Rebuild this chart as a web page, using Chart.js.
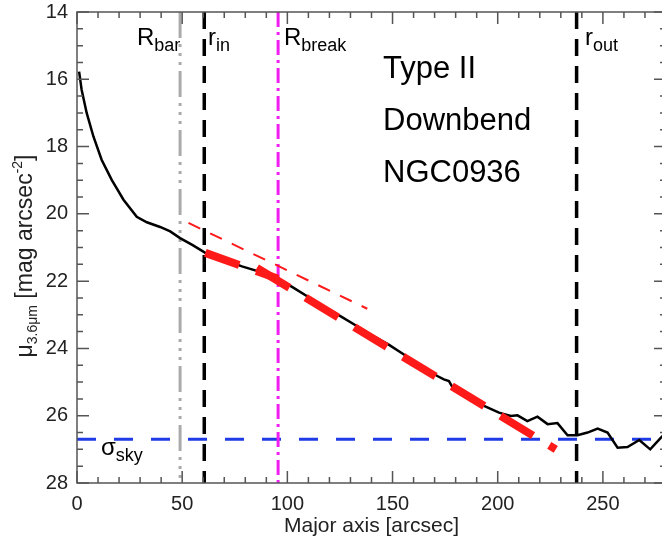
<!DOCTYPE html>
<html>
<head>
  <meta charset="utf-8">
  <title>NGC0936 surface brightness profile</title>
  <script src="https://cdn.jsdelivr.net/npm/chart.js"></script>
  <style>
    html, body {
      margin: 0;
      padding: 0;
      background: #fff;
      overflow: hidden;
    }
    .chart-container {
      width: 672px;
      height: 540px;
    }
  </style>
</head>
<body>
  <div class="chart-container">
    <canvas id="profileChart" width="672" height="540"></canvas>
  </div>

  <script>
    // 3.6 micron surface brightness profile along the major axis
    const radius = [1, 2.2, 4.6, 7.8, 11.7, 16.5, 22.1, 28.4, 33.2, 39.5, 44.3, 49, 55, 61, 70, 78.4, 86.3, 95.9,
      103, 109.4, 117, 125.2, 133.2, 140, 148, 155.4, 163, 171.3, 174.4, 176.8, 178.4, 186, 193.5, 200.6,
      206.2, 209.4, 214.1, 218.9, 223.7, 228.4, 233.2, 237.9, 242.7, 247.5, 252.2, 257, 261.7, 267.3, 272.5, 277.6, 281];
    const mu = [15.77, 16.31, 17.0, 17.7, 18.39, 18.99, 19.58, 20.09, 20.25, 20.39, 20.52, 20.72, 20.93, 21.16, 21.37, 21.56, 21.71, 21.93,
      22.2, 22.45, 22.74, 23.04, 23.34, 23.6, 23.88, 24.18, 24.5, 24.82, 24.92, 24.97, 25.14, 25.42, 25.71, 25.91,
      26.01, 25.99, 26.16, 26.03, 26.25, 26.22, 26.58, 26.58, 26.5, 26.38, 26.5, 26.95, 26.93, 26.72, 27.0, 26.65, 26.45];

    // disk fits
    const innerFitX = [61, 95.6];
    const innerFitY = [21.16, 21.93];
    const innerExtX = [53, 138];
    const innerExtY = [20.27, 22.82];
    const outerFitX = [85.5, 227.6];
    const outerFitY = [21.61, 27.0];

    // radii marked with vertical lines
    const markerNames = ['R_bar', 'r_in', 'R_break', 'r_out'];
    const markerX = [49, 60.5, 95.6, 237.5];
    const skyLevel = 26.7;

    const xTicks = [0, 50, 100, 150, 200, 250];
    const yTicks = [14, 16, 18, 20, 22, 24, 26, 28];
    const xRange = [0, 280];
    const yRange = [14, 28];

    const toPoints = (xs, ys) => xs.map((v, i) => ({ x: v, y: ys[i] }));
    const vLine = v => [{ x: v, y: yRange[0] }, { x: v, y: yRange[1] }];

    const FONT = "'Liberation Sans', Arial, Helvetica, sans-serif";
    Chart.defaults.font.family = FONT;

    const markerStyle = {
      R_bar: { color: '#aaaaaa', width: 3, dash: [26, 6, 3, 6, 3, 6, 3, 6] },
      r_in: { color: '#000000', width: 3.5, dash: [17, 10] },
      R_break: { color: '#f01ef0', width: 3, dash: [15, 5, 3, 5] },
      r_out: { color: '#000000', width: 3.5, dash: [17, 10] }
    };

    const line = (label, data, color, width, dash) => ({
      label: label,
      data: data,
      showLine: true,
      borderColor: color,
      backgroundColor: color,
      borderWidth: width,
      borderDash: dash || [],
      pointRadius: 0,
      fill: false,
      tension: 0
    });

    // first dataset is drawn on top
    const datasets = [
      line('outer fit', toPoints(outerFitX, outerFitY), '#ff1a1a', 8, [38, 19]),
      line('inner fit', toPoints(innerFitX, innerFitY), '#ff1a1a', 8, [36, 18]),
      line('inner fit extension', toPoints(innerExtX, innerExtY), '#ff1a1a', 2, [13, 11]),
      line('profile', toPoints(radius, mu), '#000000', 2.5)
    ];
    markerNames.forEach((name, i) => {
      const s = markerStyle[name];
      datasets.push(line(name, vLine(markerX[i]), s.color, s.width, s.dash));
    });
    datasets.push(line('sky', [{ x: xRange[0], y: skyLevel }, { x: xRange[1], y: skyLevel }], '#1f3be6', 3, [19, 18]));

    // frame with inward ticks on all four sides
    const frameTicks = {
      id: 'frameTicks',
      afterDatasetsDraw(chart) {
        const { ctx, chartArea: a, scales: { x, y } } = chart;
        ctx.save();
        ctx.strokeStyle = '#555';
        ctx.lineWidth = 1.5;
        ctx.strokeRect(a.left, a.top, a.right - a.left, a.bottom - a.top);
        ctx.beginPath();
        for (let v = xRange[0]; v <= xRange[1]; v += 10) {
          const px = x.getPixelForValue(v);
          const len = v % 50 === 0 ? 12 : 6;
          ctx.moveTo(px, a.bottom); ctx.lineTo(px, a.bottom - len);
          ctx.moveTo(px, a.top); ctx.lineTo(px, a.top + len);
        }
        for (let v = yRange[0]; v <= yRange[1]; v += 0.5) {
          const py = y.getPixelForValue(v);
          const len = v % 2 === 0 ? 12 : 6;
          ctx.moveTo(a.left, py); ctx.lineTo(a.left + len, py);
          ctx.moveTo(a.right, py); ctx.lineTo(a.right - len, py);
        }
        ctx.stroke();
        ctx.restore();
      }
    };

    function drawParts(ctx, x, y, parts) {
      parts.forEach(p => {
        ctx.font = p.font;
        ctx.fillText(p.text, x, y + (p.dy || 0));
        x += ctx.measureText(p.text).width;
      });
    }

    function partsWidth(ctx, parts) {
      return parts.reduce((w, p) => { ctx.font = p.font; return w + ctx.measureText(p.text).width; }, 0);
    }

    const bigFont = '24px ' + FONT;
    const subFont = '18px ' + FONT;

    // annotations and axis titles
    const annotations = {
      id: 'annotations',
      afterDraw(chart) {
        const { ctx, chartArea: a } = chart;
        ctx.save();
        ctx.fillStyle = '#000';
        ctx.textBaseline = 'alphabetic';
        ctx.textAlign = 'left';

        drawParts(ctx, 137, 45, [{ text: 'R', font: bigFont }, { text: 'bar', font: subFont, dy: 6 }]);
        drawParts(ctx, 208, 45, [{ text: 'r', font: bigFont }, { text: 'in', font: subFont, dy: 6 }]);
        drawParts(ctx, 284, 45, [{ text: 'R', font: bigFont }, { text: 'break', font: subFont, dy: 6 }]);
        drawParts(ctx, 585, 45, [{ text: 'r', font: bigFont }, { text: 'out', font: subFont, dy: 6 }]);
        drawParts(ctx, 101, 455, [{ text: 'σ', font: bigFont }, { text: 'sky', font: subFont, dy: 6 }]);

        ctx.font = '31px ' + FONT;
        ctx.fillText('Type II', 383, 78);
        ctx.fillText('Downbend', 383, 130);
        ctx.fillText('NGC0936', 383, 182);

        // x title
        ctx.font = '21px ' + FONT;
        ctx.textAlign = 'center';
        ctx.fillStyle = '#222';
        ctx.fillText('Major axis [arcsec]', (a.left + 662) / 2 + 2, 532);

        // y title, rotated
        ctx.textAlign = 'left';
        const yMain = '23px ' + FONT;
        const ySub = '14px ' + FONT;
        const parts = [
          { text: 'μ', font: yMain },
          { text: '3.6μm', font: ySub, dy: 5 },
          { text: ' [mag arcsec', font: yMain },
          { text: '-2', font: ySub, dy: -10 },
          { text: ']', font: yMain }
        ];
        ctx.translate(32, 256);
        ctx.rotate(-Math.PI / 2);
        drawParts(ctx, -partsWidth(ctx, parts) / 2, 0, parts);
        ctx.restore();
      }
    };

    new Chart(document.getElementById('profileChart').getContext('2d'), {
      type: 'scatter',
      data: { datasets: datasets },
      options: {
        responsive: false,
        animation: false,
        layout: { padding: { top: 0, right: 6, left: 0, bottom: 0 } },
        plugins: {
          legend: { display: false },
          tooltip: { enabled: false }
        },
        scales: {
          x: {
            type: 'linear',
            min: xRange[0],
            max: xRange[1],
            grid: { display: false, drawTicks: false },
            border: { display: false },
            afterBuildTicks: s => { s.ticks = xTicks.map(v => ({ value: v })); },
            afterFit: s => { s.height = 57; },
            ticks: {
              padding: 9,
              color: '#222',
              font: { size: 20 },
              maxRotation: 0,
              autoSkip: false
            }
          },
          y: {
            type: 'linear',
            reverse: true,
            min: yRange[0],
            max: yRange[1],
            grid: { display: false, drawTicks: false },
            border: { display: false },
            afterBuildTicks: s => { s.ticks = yTicks.map(v => ({ value: v })); },
            afterFit: s => { s.width = 77; s.paddingTop = 12; },
            ticks: {
              padding: 9,
              color: '#222',
              font: { size: 20 },
              autoSkip: false
            }
          }
        }
      },
      plugins: [frameTicks, annotations]
    });
  </script>
</body>
</html>
